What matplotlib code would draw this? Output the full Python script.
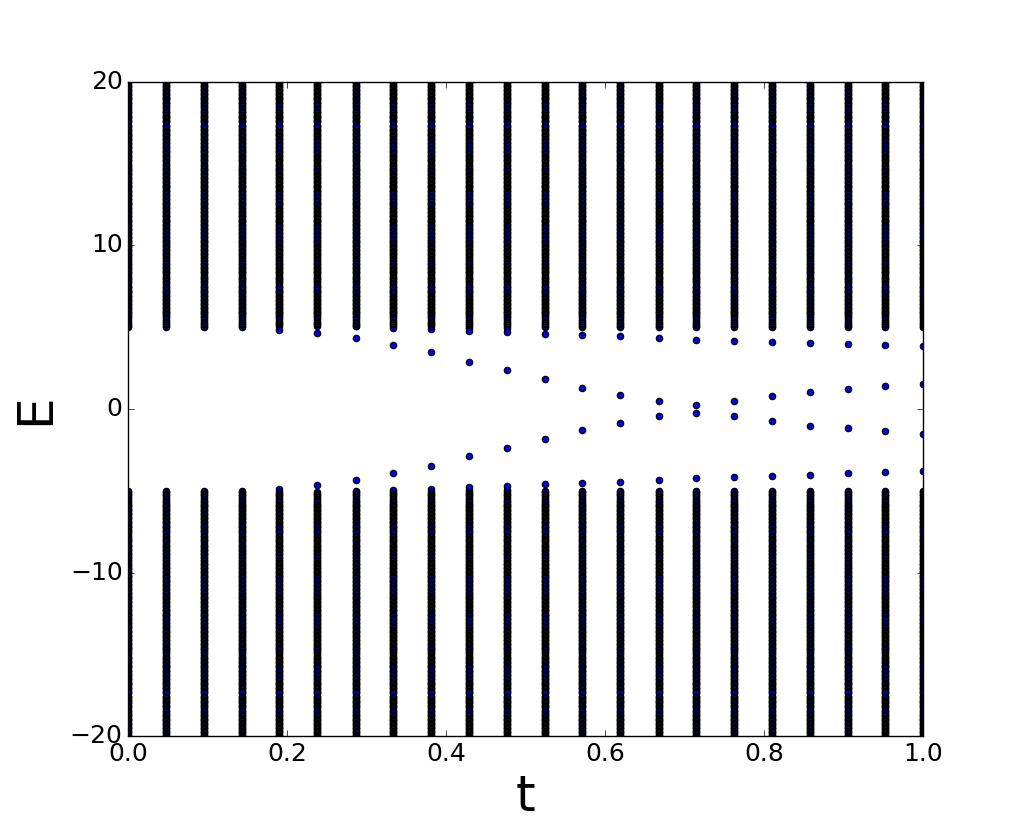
import numpy as np
import matplotlib
matplotlib.use('Agg')
import matplotlib.pyplot as plt

plt.style.use('classic')

# t values of the 22 columns
t_vals = [0.0, 0.048, 0.095, 0.143, 0.190, 0.238, 0.286, 0.333, 0.381, 0.429, 0.476,
          0.524, 0.571, 0.619, 0.667, 0.714, 0.762, 0.810, 0.857, 0.905, 0.952, 1.0]

# bulk levels shared by every column (upper band), a dense ladder of levels
bulk_upper = [
    5.10, 5.18, 5.26, 5.40, 5.48, 5.62, 5.70, 5.78, 5.86, 5.94, 6.02, 6.10,
    6.18, 6.26, 6.34, 6.42, 6.50, 6.58, 6.66, 6.74, 6.82, 6.90, 6.98, 7.06,
    7.14, 7.22, 7.30, 7.38, 7.46, 7.54, 7.62, 7.76, 7.84, 7.92, 8.00, 8.08,
    8.22, 8.30, 8.38, 8.46, 8.54, 8.62, 8.70, 8.78, 8.86, 8.94, 9.02, 9.10,
    9.24, 9.32, 9.40, 9.48, 9.56, 9.64, 9.72, 9.80, 9.88, 9.96, 10.04, 10.12,
    10.20, 10.28, 10.36, 10.44, 10.52, 10.60, 10.68, 10.76, 10.84, 10.92, 11.00,
    11.08, 11.16, 11.24, 11.32, 11.40, 11.48, 11.56, 11.64, 11.72, 11.80, 11.88,
    11.96, 12.04, 12.12, 12.20, 12.28, 12.36, 12.44, 12.52, 12.60, 12.68, 12.76,
    12.84, 12.92, 13.00, 13.08, 13.16, 13.24, 13.32, 13.40, 13.48, 13.56, 13.64,
    13.72, 13.80, 13.88, 13.96, 14.04, 14.12, 14.20, 14.28, 14.36, 14.44, 14.52,
    14.60, 14.68, 14.76, 14.84, 14.92, 15.06, 15.14, 15.22, 15.30, 15.38, 15.46,
    15.54, 15.62, 15.70, 15.78, 15.86, 15.94, 16.02, 16.10, 16.18, 16.26, 16.34,
    16.42, 16.50, 16.58, 16.66, 16.74, 16.82, 16.90, 16.98, 17.06, 17.14, 17.22,
    17.30, 17.38, 17.52, 17.60, 17.68, 17.76, 17.84, 17.92, 18.00, 18.08, 18.16,
    18.24, 18.32, 18.46, 18.54, 18.62, 18.70, 18.78, 18.86, 18.94, 19.02, 19.10,
    19.18, 19.26, 19.34, 19.42, 19.50, 19.58, 19.66, 19.74, 19.82, 19.90, 19.98,
    20.06, 20.14, 20.22, 20.30]
# lower band, same ladder on the negative side
bulk_lower = [
    -5.10, -5.18, -5.26, -5.40, -5.48, -5.62, -5.70, -5.78, -5.86, -5.94, -6.02, -6.10,
    -6.18, -6.26, -6.34, -6.42, -6.50, -6.58, -6.66, -6.74, -6.82, -6.90, -6.98, -7.06,
    -7.14, -7.22, -7.30, -7.38, -7.46, -7.54, -7.62, -7.76, -7.84, -7.92, -8.00, -8.08,
    -8.22, -8.30, -8.38, -8.46, -8.54, -8.62, -8.70, -8.78, -8.86, -8.94, -9.02, -9.10,
    -9.24, -9.32, -9.40, -9.48, -9.56, -9.64, -9.72, -9.80, -9.88, -9.96, -10.04, -10.12,
    -10.20, -10.28, -10.36, -10.44, -10.52, -10.60, -10.68, -10.76, -10.84, -10.92, -11.00,
    -11.08, -11.16, -11.24, -11.32, -11.40, -11.48, -11.56, -11.64, -11.72, -11.80, -11.88,
    -11.96, -12.04, -12.12, -12.20, -12.28, -12.36, -12.44, -12.52, -12.60, -12.68, -12.76,
    -12.84, -12.92, -13.00, -13.08, -13.16, -13.24, -13.32, -13.40, -13.48, -13.56, -13.64,
    -13.72, -13.80, -13.88, -13.96, -14.04, -14.12, -14.20, -14.28, -14.36, -14.44, -14.52,
    -14.60, -14.68, -14.76, -14.84, -14.92, -15.06, -15.14, -15.22, -15.30, -15.38, -15.46,
    -15.54, -15.62, -15.70, -15.78, -15.86, -15.94, -16.02, -16.10, -16.18, -16.26, -16.34,
    -16.42, -16.50, -16.58, -16.66, -16.74, -16.82, -16.90, -16.98, -17.06, -17.14, -17.22,
    -17.30, -17.38, -17.52, -17.60, -17.68, -17.76, -17.84, -17.92, -18.00, -18.08, -18.16,
    -18.24, -18.32, -18.46, -18.54, -18.62, -18.70, -18.78, -18.86, -18.94, -19.02, -19.10,
    -19.18, -19.26, -19.34, -19.42, -19.50, -19.58, -19.66, -19.74, -19.82, -19.90, -19.98,
    -20.06, -20.14, -20.22, -20.30]

# lowest level of the dense band in each column
edge_upper = [5.0, 5.0, 5.0, 5.0, 4.85, 4.65, 5.05, 4.95, 4.86, 4.95, 4.95,
              5.0, 5.0, 5.0, 5.0, 5.0, 5.0, 5.0, 5.0, 5.0, 5.0, 5.0]
edge_lower = [-5.0, -5.0, -5.0, -5.0, -4.86, -4.63, -5.0, -4.94, -4.86, -4.95, -4.95,
              -5.0, -5.0, -5.0, -5.0, -5.0, -5.0, -5.0, -5.0, -5.0, -5.0, -5.0]

# states split off just below the band
near_upper = [np.nan, np.nan, np.nan, np.nan, np.nan, np.nan, np.nan, np.nan, np.nan,
              4.77, 4.69, 4.60, 4.55, 4.44, 4.36, 4.24, 4.18, 4.08, 4.02, 3.95, 3.89, 3.83]
near_lower = [np.nan, np.nan, np.nan, np.nan, np.nan, np.nan, np.nan, np.nan, np.nan,
              -4.79, -4.73, -4.59, -4.53, -4.44, -4.37, -4.24, -4.18, -4.12, -4.04,
              -3.94, -3.88, -3.82]

# in-gap states
gap_upper = [np.nan, np.nan, np.nan, np.nan, np.nan, np.nan, 4.33, 3.92, 3.48, 2.89, 2.36,
             1.85, 1.30, 0.84, 0.46, 0.27, 0.46, 0.77, 1.02, 1.20, 1.38, 1.51]
gap_lower = [np.nan, np.nan, np.nan, np.nan, np.nan, np.nan, -4.36, -3.94, -3.46, -2.90,
             -2.41, -1.86, -1.31, -0.88, -0.45, -0.27, -0.45, -0.76, -1.02, -1.19,
             -1.37, -1.51]

xs = []
ys = []
for i, t in enumerate(t_vals):
    col = [edge_upper[i], edge_lower[i]] + bulk_upper + bulk_lower
    for v in (near_upper[i], near_lower[i], gap_upper[i], gap_lower[i]):
        if not np.isnan(v):
            col.append(v)
    xs += [t] * len(col)
    ys += col

fig = plt.figure(figsize=(10.26, 8.18), dpi=100)
ax = fig.add_subplot(111)
ax.scatter(xs, ys, s=20)
ax.set_xlim(0, 1)
ax.set_ylim(-20, 20)
ax.set_xticks([0.0, 0.2, 0.4, 0.6, 0.8, 1.0])
ax.set_yticks([-20, -10, 0, 10, 20])
ax.tick_params(labelsize=18)
ax.set_xlabel('t', fontsize=36)
ax.set_ylabel('E', fontsize=36, labelpad=8)
fig.savefig('out.png', dpi=100)
